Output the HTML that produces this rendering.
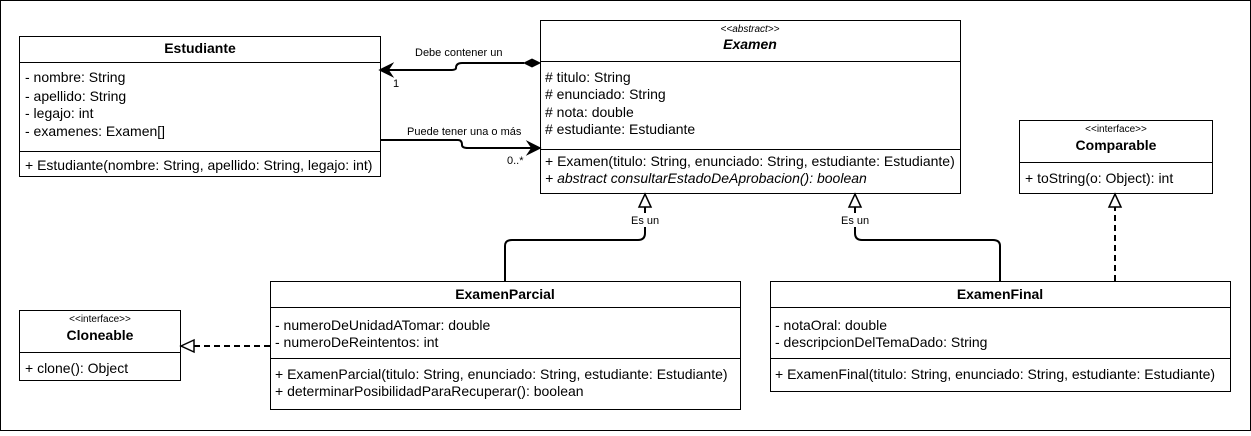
<!DOCTYPE html>
<html><head><style>html,body{margin:0;padding:0;background:#fff}</style></head><body>
<svg width="1251" height="431" xmlns="http://www.w3.org/2000/svg" font-family="Liberation Sans, Arial, sans-serif" font-size="14">
<rect x="0.5" y="0.5" width="1250" height="430" fill="#fff" stroke="#000"/>
<g fill="#fff" stroke="#000">
<rect x="19.5" y="36.5" width="361" height="140"/>
<rect x="540.5" y="20.5" width="420" height="173"/>
<rect x="1019.5" y="120.5" width="193" height="73"/>
<rect x="270.5" y="281.5" width="470" height="128"/>
<rect x="770.5" y="281.5" width="460" height="110"/>
<rect x="19.5" y="310.5" width="161" height="70"/>
</g>
<g stroke="#000">
<line x1="19" y1="62.5" x2="381" y2="62.5"/><line x1="19" y1="151.5" x2="381" y2="151.5"/>
<line x1="540" y1="61.5" x2="961" y2="61.5"/><line x1="540" y1="149.5" x2="961" y2="149.5"/>
<line x1="1019" y1="162.5" x2="1213" y2="162.5"/>
<line x1="270" y1="307.5" x2="741" y2="307.5"/><line x1="270" y1="358.5" x2="741" y2="358.5"/>
<line x1="770" y1="307.5" x2="1231" y2="307.5"/><line x1="770" y1="358.5" x2="1231" y2="358.5"/>
<line x1="19" y1="352.5" x2="181" y2="352.5"/>
</g>
<g fill="none" stroke="#000" stroke-width="2">
<path d="M524 63 L462 63 Q456 63 456 68 Q456 70 450 70 L386 70"/>
<path d="M380 140 L458 140 Q462 140 462 145 Q462 148 468 148 L532 148"/>
<path d="M505 281 L505 246 Q505 240 512 240 L638 240 Q645 240 645 233 L645 207"/>
<path d="M1000 281 L1000 246 Q1000 240 993 240 L862 240 Q855 240 855 233 L855 207"/>
<path d="M1115 281 L1115 207" stroke-dasharray="6,4"/>
<path d="M270 346 L194 346" stroke-dasharray="6,4"/>
</g>
<path d="M540 63 L532 59 L524 63 L532 67 Z" fill="#000" stroke="#000"/>
<path d="M380 70 L392 64 L388 70 L392 76 Z" fill="#000" stroke="#000" stroke-width="1.5"/>
<path d="M540 148 L528 142 L532 148 L528 154 Z" fill="#000" stroke="#000" stroke-width="1.5"/>
<g fill="#fff" stroke="#000" stroke-width="1.5">
<path d="M645 194 L651 207 L639 207 Z"/>
<path d="M855 194 L861 207 L849 207 Z"/>
<path d="M1115 194 L1121 207 L1109 207 Z"/>
<path d="M181 346 L194 340 L194 352 Z"/>
</g>
<rect x="630" y="213" width="30" height="14" fill="#fff"/>
<rect x="840" y="213" width="30" height="14" fill="#fff"/>
<g fill="#000" font-size="11">
<text x="631" y="224">Es un</text>
<text x="841" y="224">Es un</text>
<text x="415" y="56">Debe contener un</text>
<text x="393" y="87">1</text>
<text x="407" y="135">Puede tener una o más</text>
<text x="507" y="164">0..*</text>
</g>
<g fill="#000">
<text x="200" y="53" text-anchor="middle" font-weight="bold">Estudiante</text>
<text x="25" y="82">- nombre: String</text>
<text x="25" y="101">- apellido: String</text>
<text x="25" y="118">- legajo: int</text>
<text x="25" y="136">- examenes: Examen[]</text>
<text x="25" y="170">+ Estudiante(nombre: String, apellido: String, legajo: int)</text>
<text x="750" y="32" text-anchor="middle" font-size="10" font-style="italic">&lt;&lt;abstract&gt;&gt;</text>
<text x="750" y="49" text-anchor="middle" font-weight="bold" font-style="italic">Examen</text>
<text x="545" y="82">#&#160;titulo: String</text>
<text x="545" y="99">#&#160;enunciado: String</text>
<text x="545" y="117">#&#160;nota: double</text>
<text x="545" y="134">#&#160;estudiante: Estudiante</text>
<text x="545" y="166">+ Examen(titulo: String, enunciado: String, estudiante: Estudiante)</text>
<text x="545" y="183" font-style="italic">+ abstract consultarEstadoDeAprobacion(): boolean</text>
<text x="1116" y="132" text-anchor="middle" font-size="10">&lt;&lt;interface&gt;&gt;</text>
<text x="1116" y="150" text-anchor="middle" font-weight="bold">Comparable</text>
<text x="1025" y="183">+ toString(o: Object): int</text>
<text x="505" y="299" text-anchor="middle" font-weight="bold">ExamenParcial</text>
<text x="275" y="330">- numeroDeUnidadATomar: double</text>
<text x="275" y="347">- numeroDeReintentos: int</text>
<text x="275" y="379">+ ExamenParcial(titulo: String, enunciado: String, estudiante: Estudiante)</text>
<text x="275" y="396">+ determinarPosibilidadParaRecuperar(): boolean</text>
<text x="1000" y="299" text-anchor="middle" font-weight="bold">ExamenFinal</text>
<text x="775" y="330">- notaOral: double</text>
<text x="775" y="347">- descripcionDelTemaDado: String</text>
<text x="775" y="379">+ ExamenFinal(titulo: String, enunciado: String, estudiante: Estudiante)</text>
<text x="100" y="322" text-anchor="middle" font-size="10">&lt;&lt;interface&gt;&gt;</text>
<text x="100" y="340" text-anchor="middle" font-weight="bold">Cloneable</text>
<text x="25" y="373">+ clone(): Object</text>
</g>
</svg>
</body></html>
